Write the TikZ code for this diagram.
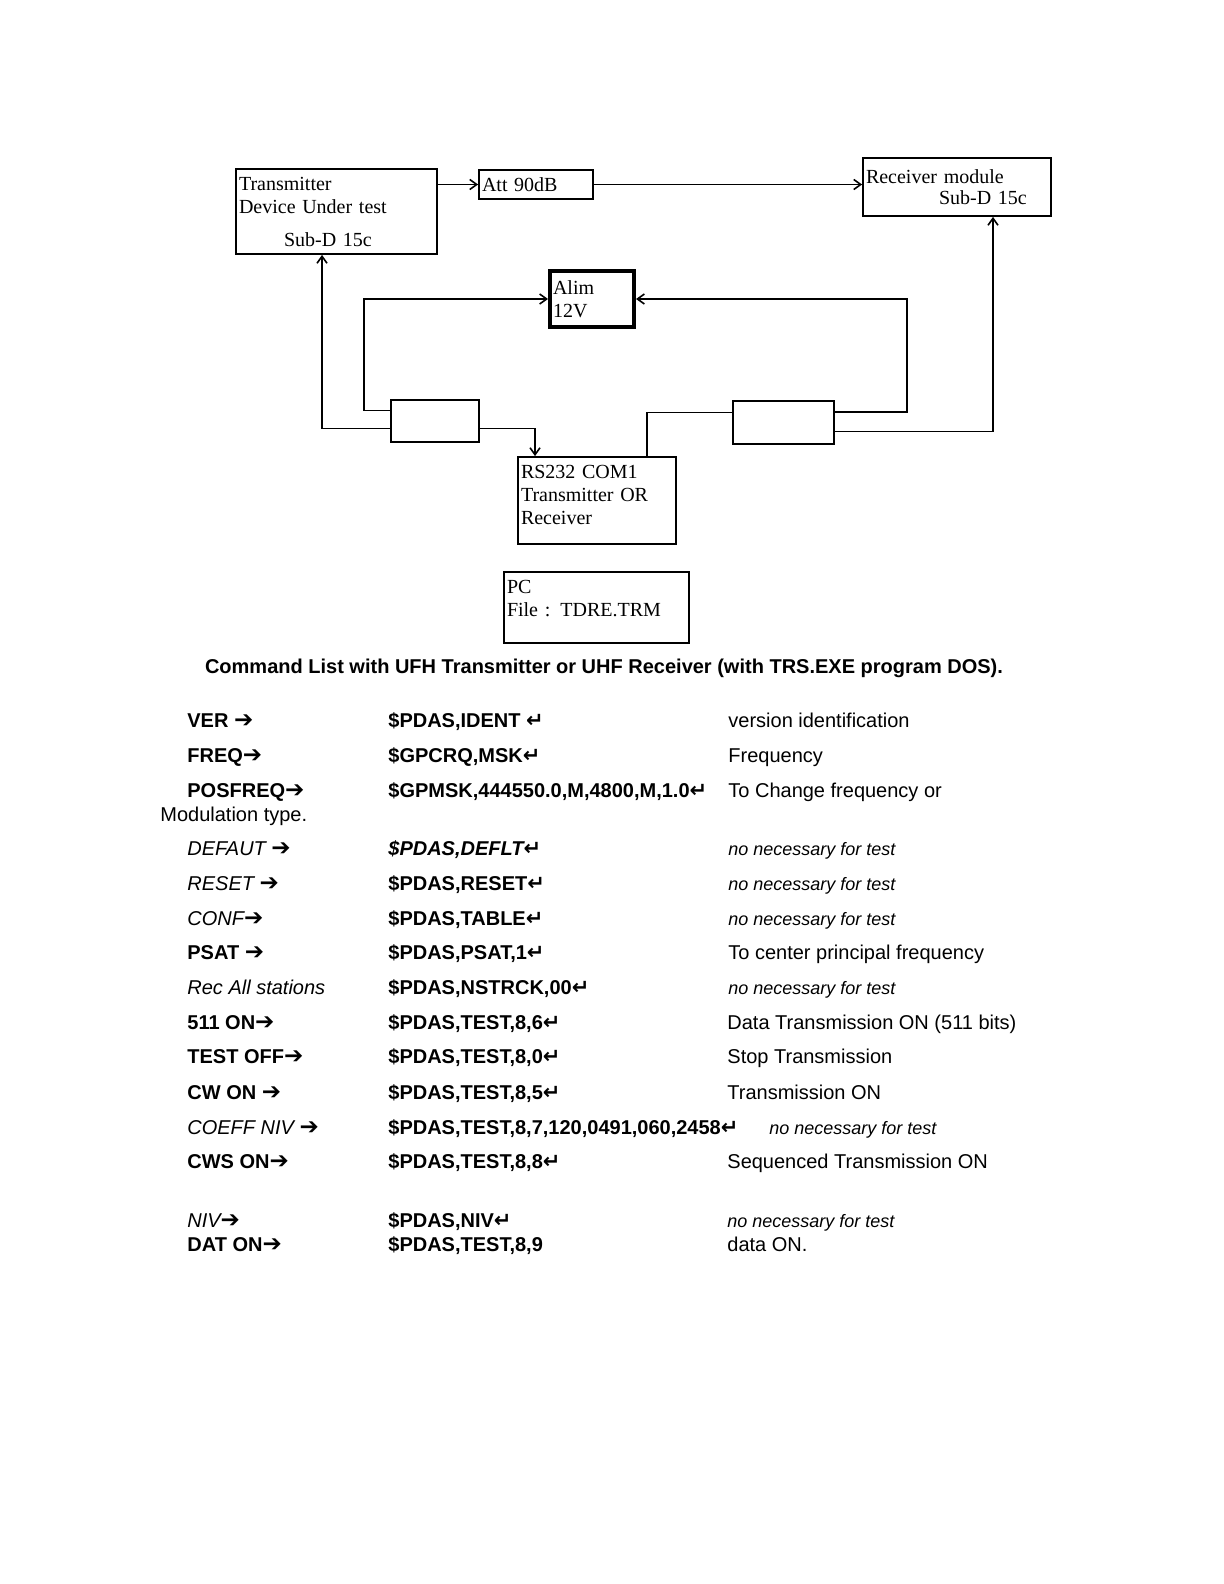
\documentclass[tikz,border=0pt]{standalone}
\usepackage{fontspec}
\setmainfont{Liberation Serif}
\newfontfamily\tabfont{Liberation Sans}
\newfontfamily\symfont{DejaVu Sans}
\usetikzlibrary{arrows.meta,calc}
\newcommand{\cmdarrow}{{\symfont\fontsize{11.5}{11}\selectfont\char"2794}}
\newcommand{\cmdret}{{\symfont\fontsize{10.5}{11}\selectfont\char"21B5}}
\newcommand{\nonec}{{\itshape\fontsize{9}{10}\selectfont no necessary for test}}

\begin{document}
\begin{tikzpicture}[x=0.5pt,y=-0.5pt,>={Straight Barb[length=3.5pt,width=5pt]},
    every node/.style={font=\fontsize{10}{11.5}\selectfont},
    box/.style={draw,line width=0.9pt,inner xsep=1.5pt,inner ysep=0pt,align=left},
    link/.style={line width=0.8pt},
    cell/.style={anchor=base west,inner sep=0pt,font=\tabfont\fontsize{10}{12}\selectfont},
    cmdcell/.style={cell,font=\tabfont\bfseries\fontsize{10}{12}\selectfont}]
    \useasboundingbox (0,0) rectangle (1224,1584);
    % blocks of the test bench
    \node[box,minimum width=100.5pt,minimum height=42.5pt,text width=97.5pt] (tx) at (336.5,211.5)
      {Transmitter\\Device Under test\\[5pt]\hspace*{22.5pt}Sub-D 15c};
    \node[box,minimum width=57pt,minimum height=14.5pt,text width=54pt] (att) at (536,184.5) {Att 90dB};
    \node[box,minimum width=94pt,minimum height=29pt,text width=91pt] (rx) at (957,187)
      {Receiver module\\[-1pt]\hspace*{36.5pt}Sub-D 15c};
    \node[box,line width=2pt,minimum width=42pt,minimum height=28pt,text width=39pt] (alim) at (592,299) {Alim\\12V};
    \node[box,minimum width=44pt,minimum height=21pt] (convL) at (435,421) {};
    \node[box,minimum width=50.5pt,minimum height=21.5pt] (convR) at (783.5,422.5) {};
    \node[box,minimum width=79pt,minimum height=43.5pt,text width=76pt] (rs) at (597,500.5)
      {RS232 COM1\\Transmitter OR\\Receiver\\[-9.5pt]\strut};
    \node[box,minimum width=92.5pt,minimum height=35.5pt,text width=89.5pt] (pc) at (596.5,607.5)
      {PC\\File : TDRE.TRM\\[-6pt]\strut};
    % connections
    \draw[link,->] (tx.east |- att.west) -- (att.west);
    \draw[link,->] (att.east) -- (att.east -| rx.west);
    \coordinate (la) at ($(convL.north west)!0.26!(convL.south west)$);
    \coordinate (lb) at ($(convL.north west)!0.67!(convL.south west)$);
    \coordinate (lc) at ($(convL.north east)!0.67!(convL.south east)$);
    \coordinate (ra) at ($(convR.north west)!0.28!(convR.south west)$);
    \coordinate (rb) at ($(convR.north east)!0.26!(convR.south east)$);
    \coordinate (rc) at ($(convR.north east)!0.70!(convR.south east)$);
    \draw[link,->] (la) -- ++(-26,0) |- (alim.west);
    \draw[link,->] (lb) -| ([xshift=-7.25pt]tx.south);
    \draw[link,->] (lc) -| ([xshift=-31pt]rs.north);
    \draw[link] ([xshift=25pt]rs.north) |- (ra);
    \draw[link,->] (rb) -- ++(72,0) |- (alim.east);
    \draw[link,->] (rc) -| ([xshift=18pt]rx.south);
    % command list
    \node[anchor=base,inner sep=0pt,font=\tabfont\bfseries\fontsize{10}{12}\selectfont] (title) at (604,673)
      {Command List with UFH Transmitter or UHF Receiver (with TRS.EXE program DOS).};
    \foreach \y/\a/\b/\dx/\c [count=\i] in {
      727/{\bfseries VER \cmdarrow}/{\$PDAS,IDENT \cmdret}/728/{version identification},
      762/{\bfseries FREQ\cmdarrow}/{\$GPCRQ,MSK\cmdret}/728/{Frequency},
      797/{\bfseries POSFREQ\cmdarrow}/{\$GPMSK,444550.0,M,4800,M,1.0\cmdret}/728/{To Change frequency or},
      855/{\itshape DEFAUT \cmdarrow}/{\itshape\$PDAS,DEFLT\cmdret}/728/{\nonec},
      890/{\itshape RESET \cmdarrow}/{\$PDAS,RESET\cmdret}/728/{\nonec},
      925/{\itshape CONF\cmdarrow}/{\$PDAS,TABLE\cmdret}/728/{\nonec},
      959/{\bfseries PSAT \cmdarrow}/{\$PDAS,PSAT,1\cmdret}/728/{To center principal frequency},
      994/{\itshape Rec All stations}/{\$PDAS,NSTRCK,00\cmdret}/728/{\nonec},
      1029/{\bfseries 511 ON\cmdarrow}/{\$PDAS,TEST,8,6\cmdret}/727/{Data Transmission ON (511 bits)},
      1063/{\bfseries TEST OFF\cmdarrow}/{\$PDAS,TEST,8,0\cmdret}/727/{Stop Transmission},
      1099/{\bfseries CW ON \cmdarrow}/{\$PDAS,TEST,8,5\cmdret}/727/{Transmission ON},
      1134/{\itshape COEFF NIV \cmdarrow}/{\$PDAS,TEST,8,7,120,0491,060,2458\cmdret}/769/{\nonec},
      1168/{\bfseries CWS ON\cmdarrow}/{\$PDAS,TEST,8,8\cmdret}/727/{Sequenced Transmission ON},
      1227/{\itshape NIV\cmdarrow}/{\$PDAS,NIV\cmdret}/727/{\nonec},
      1251/{\bfseries DAT ON\cmdarrow}/{\$PDAS,TEST,8,9}/727/{data ON.}}
    {
      \node[cell] (key\i) at (187,\y) {\a};
      \node[cmdcell] (cmd\i) at (388,\y) {\b};
      \node[cell] (txt\i) at (\dx,\y) {\c};
    }
    \node[cell] (modtype) at (160,821) {Modulation type.};
  \end{tikzpicture}
\end{document}
